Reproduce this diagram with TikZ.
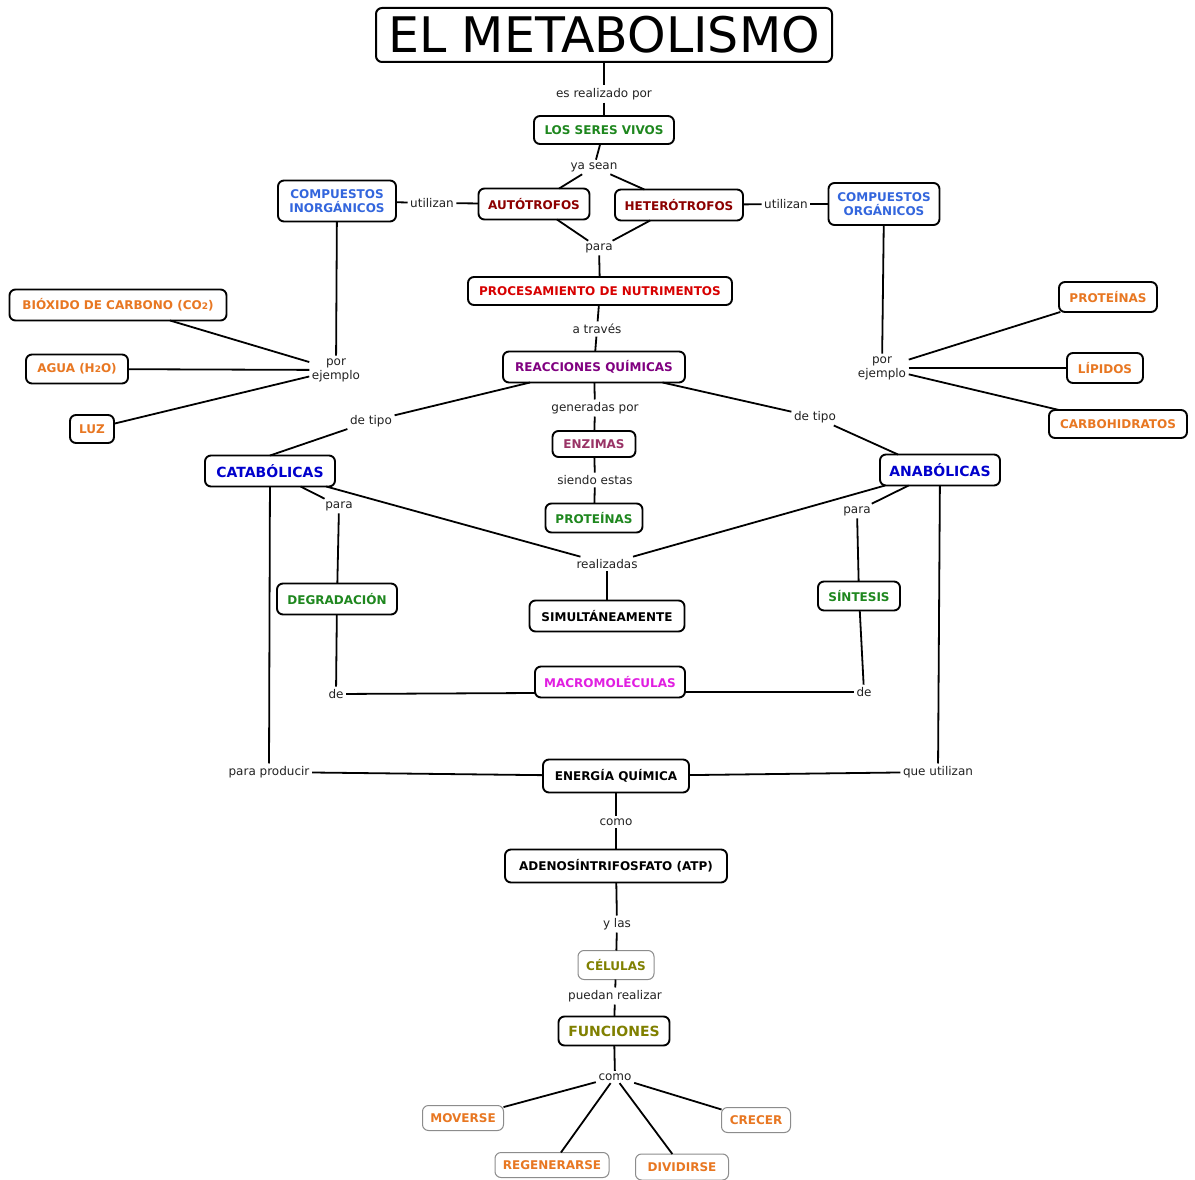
\documentclass[tikz,border=0pt]{standalone}
\usepackage{fontspec}
\setmainfont{DejaVu Sans}
\definecolor{cGreen}{RGB}{30,135,30}
\definecolor{cDarkRed}{RGB}{140,0,0}
\definecolor{cLBlue}{RGB}{51,102,221}
\definecolor{cRed}{RGB}{215,0,0}
\definecolor{cPurple}{RGB}{128,0,128}
\definecolor{cOrange}{RGB}{232,119,34}
\definecolor{cNavy}{RGB}{0,0,204}
\definecolor{cMauve}{RGB}{153,51,102}
\definecolor{cMagenta}{RGB}{225,30,225}
\definecolor{cOlive}{RGB}{128,128,0}
\definecolor{cLabel}{RGB}{34,34,34}
\newcommand{\smalldigit}[1]{{\fontsize{9}{9}\selectfont #1}}
\begin{document}
\begin{tikzpicture}[x=1pt,y=-1pt,
  box/.style={draw=black, line width=1.9pt, rounded corners=6pt, fill=white,
    font=\bfseries\fontsize{12}{14}\selectfont, align=center, inner sep=0pt, outer sep=0pt},
  bigtext/.style={font=\bfseries\fontsize{14}{16}\selectfont},
  thinbox/.style={draw=black!45, line width=1pt},
  wh/.style 2 args={minimum width=#1pt, minimum height=#2pt},
  lbl/.style={font=\fontsize{12}{14}\selectfont, text=cLabel, inner sep=2.5pt, align=center},
  conn/.style={line width=1.8pt, draw=black}]
\fill[white] (0,0) rectangle (1195,1180);
\useasboundingbox (0,0) rectangle (1195,1180);

% concept nodes
\node[box, wh={456}{54}, line width=2pt, font=\fontsize{49}{54}\selectfont] (title) at (604,35) {EL METABOLISMO};
\node[box, wh={140}{28}, text=cGreen] (seres) at (604,130) {LOS SERES VIVOS};
\node[box, wh={111}{31}, text=cDarkRed] (auto) at (534,204) {AUTÓTROFOS};
\node[box, wh={128}{31}, text=cDarkRed] (hetero) at (679,205) {HETERÓTROFOS};
\node[box, wh={118}{41}, text=cLBlue] (inorg) at (337,201) {COMPUESTOS\\INORGÁNICOS};
\node[box, wh={111}{42}, text=cLBlue] (org) at (884,204) {COMPUESTOS\\ORGÁNICOS};
\node[box, wh={264}{28}, text=cRed] (proc) at (600,291) {PROCESAMIENTO DE NUTRIMENTOS};
\node[box, wh={182}{31}, text=cPurple] (reac) at (594,367) {REACCIONES QUÍMICAS};
\node[box, wh={217}{31}, text=cOrange] (co2) at (118,305) {BIÓXIDO DE CARBONO (CO\smalldigit{2})};
\node[box, wh={102}{29}, text=cOrange] (agua) at (77,369) {AGUA (H\smalldigit{2}O)};
\node[box, wh={44}{28}, text=cOrange] (luz) at (92,429) {LUZ};
\node[box, wh={98}{30}, text=cOrange] (protR) at (1108,297) {PROTEÍNAS};
\node[box, wh={76}{30}, text=cOrange] (lip) at (1105,368) {LÍPIDOS};
\node[box, wh={138}{28}, text=cOrange] (carb) at (1118,424) {CARBOHIDRATOS};
\node[box, bigtext, wh={130}{31}, text=cNavy] (cata) at (270,471) {CATABÓLICAS};
\node[box, bigtext, wh={120}{31}, text=cNavy] (ana) at (940,470) {ANABÓLICAS};
\node[box, wh={83}{26}, text=cMauve] (enz) at (594,444) {ENZIMAS};
\node[box, wh={97}{29}, text=cGreen] (protC) at (594,518) {PROTEÍNAS};
\node[box, wh={120}{31}, text=cGreen] (degr) at (337,599) {DEGRADACIÓN};
\node[box, wh={155}{31}, text=black] (simult) at (607,616) {SIMULTÁNEAMENTE};
\node[box, wh={82}{29}, text=cGreen] (sint) at (859,596) {SÍNTESIS};
\node[box, wh={150}{31}, text=cMagenta] (macro) at (610,682) {MACROMOLÉCULAS};
\node[box, wh={146}{33}, text=black] (energia) at (616,776) {ENERGÍA QUÍMICA};
\node[box, wh={222}{33}, text=black] (atp) at (616,866) {ADENOSÍNTRIFOSFATO (ATP)};
\node[box, thinbox, wh={76}{29}, text=cOlive] (cel) at (616,965) {CÉLULAS};
\node[box, bigtext, wh={111}{29}, text=cOlive] (func) at (614,1031) {FUNCIONES};
\node[box, thinbox, wh={81}{25}, text=cOrange] (mov) at (463,1118) {MOVERSE};
\node[box, thinbox, wh={114}{25}, text=cOrange] (regen) at (552,1165) {REGENERARSE};
\node[box, thinbox, wh={93}{26}, text=cOrange] (divi) at (682,1167) {DIVIDIRSE};
\node[box, thinbox, wh={69}{25}, text=cOrange] (crec) at (756,1120) {CRECER};

% linking phrases
\node[lbl] (lreal1) at (604,94) {es realizado por};
\node[lbl] (lsean) at (594,167) {ya sean};
\node[lbl] (lutilL) at (432,203) {utilizan};
\node[lbl] (lutilR) at (786,204) {utilizan};
\node[lbl] (lpara) at (599,248) {para};
\node[lbl] (latr) at (597,329) {a través};
\node[lbl] (lporL) at (336,370) {por\\ejemplo};
\node[lbl] (lporR) at (882,368) {por\\ejemplo};
\node[lbl] (ltipoL) at (371,421) {de tipo};
\node[lbl] (ltipoR) at (815,417) {de tipo};
\node[lbl] (lgen) at (595,408) {generadas por};
\node[lbl] (lsiendo) at (595,480) {siendo estas};
\node[lbl] (lparaL) at (339,506) {para};
\node[lbl] (lparaR) at (857,511) {para};
\node[lbl] (lrealz) at (607,564) {realizadas};
\node[lbl] (ldeL) at (336,694) {de};
\node[lbl] (ldeR) at (864,692) {de};
\node[lbl] (lprod) at (269,772) {para producir};
\node[lbl] (lqueu) at (938,772) {que utilizan};
\node[lbl] (lcomo) at (616,822) {como};
\node[lbl] (lylas) at (617,924) {y las};
\node[lbl] (lpued) at (615,996) {puedan realizar};
\node[lbl] (lcomo2) at (615,1077) {como};

% connectors
\draw[conn] (title) -- (lreal1);
\draw[conn] (lreal1) -- (seres);
\draw[conn] (seres) -- (lsean);
\draw[conn] (lsean) -- (auto);
\draw[conn] (lsean) -- (hetero);
\draw[conn] (auto) -- (lutilL);
\draw[conn] (lutilL) -- (inorg);
\draw[conn] (hetero) -- (lutilR);
\draw[conn] (lutilR) -- (org);
\draw[conn] (auto) -- (lpara);
\draw[conn] (hetero) -- (lpara);
\draw[conn] (lpara) -- (proc);
\draw[conn] (proc) -- (latr);
\draw[conn] (latr) -- (reac);
\draw[conn] (inorg) -- (lporL);
\draw[conn] (lporL) -- (co2);
\draw[conn] (lporL) -- (agua);
\draw[conn] (lporL) -- (luz);
\draw[conn] (org) -- (lporR);
\draw[conn] (lporR) -- (protR);
\draw[conn] (lporR) -- (lip);
\draw[conn] (lporR) -- (carb);
\draw[conn] (reac) -- (ltipoL);
\draw[conn] (ltipoL) -- (cata.north);
\draw[conn] (reac) -- (ltipoR);
\draw[conn] (ltipoR) -- ([xshift=18pt]ana.north west);
\draw[conn] (reac) -- (lgen);
\draw[conn] (lgen) -- (enz);
\draw[conn] (enz) -- (lsiendo);
\draw[conn] (lsiendo) -- (protC);
\draw[conn] (cata) -- (lparaL);
\draw[conn] (lparaL) -- (degr);
\draw[conn] (degr) -- (ldeL);
\draw[conn] (ldeL) -- ([yshift=-11pt]macro.west);
\draw[conn] (ana) -- (lparaR);
\draw[conn] (lparaR) -- (sint);
\draw[conn] (sint) -- (ldeR);
\draw[conn] (ldeR) -- ([yshift=-10pt]macro.east);
\draw[conn] (cata) -- (lrealz);
\draw[conn] (ana) -- (lrealz);
\draw[conn] (lrealz) -- (simult);
\draw[conn] (cata) -- (lprod);
\draw[conn] (lprod) -- (energia);
\draw[conn] (ana) -- (lqueu);
\draw[conn] (lqueu) -- (energia);
\draw[conn] (energia) -- (lcomo);
\draw[conn] (lcomo) -- (atp);
\draw[conn] (atp) -- (lylas);
\draw[conn] (lylas) -- (cel);
\draw[conn] (cel) -- (lpued);
\draw[conn] (lpued) -- (func);
\draw[conn] (func) -- (lcomo2);
\draw[conn] (lcomo2) -- (mov);
\draw[conn] (lcomo2) -- (regen);
\draw[conn] (lcomo2) -- (divi);
\draw[conn] (lcomo2) -- (crec);
\end{tikzpicture}
\end{document}
